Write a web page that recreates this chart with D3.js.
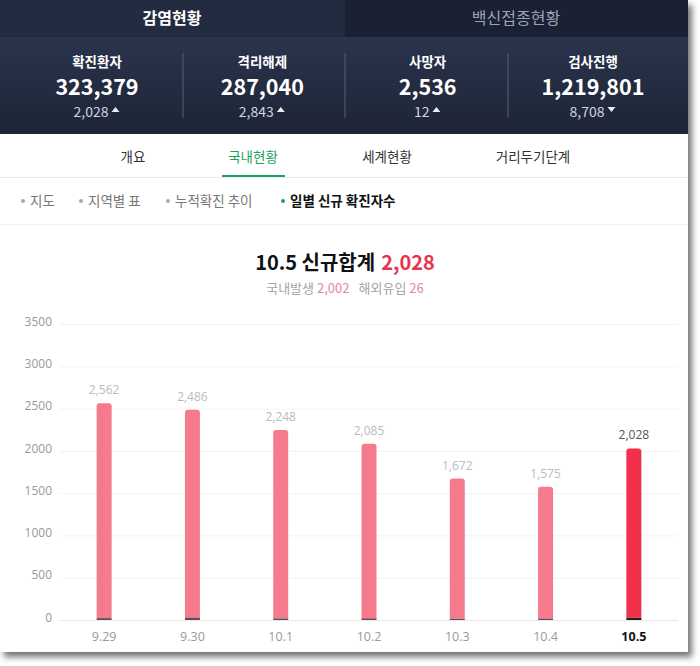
<!DOCTYPE html>
<html><head><meta charset="utf-8">
<script src="https://cdn.jsdelivr.net/npm/d3@7"></script>
<style>
html,body{margin:0;padding:0;background:#fff;}
svg{display:block;font-family:"Noto Sans CJK KR","Noto Sans",sans-serif;}
</style></head>
<body>
<svg id="c" width="700" height="666"></svg>
<script>
// ---- data ----
const tabs = ["감염현황", "백신접종현황"];
const statLabels = ["확진환자", "격리해제", "사망자", "검사진행"];
const statValues = ["323,379", "287,040", "2,536", "1,219,801"];
const statDeltas = ["2,028", "2,843", "12", "8,708"];
const statDirs = ["up", "up", "up", "down"];
const navItems = ["개요", "국내현황", "세계현황", "거리두기단계"];
const subNav = ["지도", "지역별 표", "누적확진 추이", "일별 신규 확진자수"];
const dates = ["9.29", "9.30", "10.1", "10.2", "10.3", "10.4", "10.5"];
const totals = [2562, 2486, 2248, 2085, 1672, 1575, 2028];
const domestic = [2540, 2459, 2230, 2066, 1658, 1560, 2002];
const overseas = [22, 27, 18, 19, 14, 15, 26];
const yTicks = [0, 500, 1000, 1500, 2000, 2500, 3000, 3500];
const titleDate = "10.5", titleLabel = "신규합계", titleValue = "2,028";
const subLabels = ["국내발생", "해외유입"], subValues = ["2,002", "26"];

const svg = d3.select("#c");
const W = 688, H = 652;

// frame shadow
const defs = svg.append("defs");
const f = defs.append("filter").attr("id","sh").attr("x","-5%").attr("y","-5%").attr("width","115%").attr("height","115%");
f.append("feDropShadow").attr("dx",4).attr("dy",5).attr("stdDeviation",3).attr("flood-color","#000").attr("flood-opacity",0.55);
const g1 = defs.append("linearGradient").attr("id","hd").attr("x1",0).attr("y1",0).attr("x2",0).attr("y2",1);
g1.append("stop").attr("offset","0%").attr("stop-color","#2f3a55");
g1.append("stop").attr("offset","100%").attr("stop-color","#1d2436");

svg.append("rect").attr("x",0).attr("y",0).attr("width",W).attr("height",H).attr("fill","#fff").attr("filter","url(#sh)");

// header
svg.append("rect").attr("x",0).attr("y",0).attr("width",W).attr("height",134).attr("fill","url(#hd)");
svg.append("rect").attr("x",0).attr("y",0).attr("width",345).attr("height",37).attr("fill","#232b40");
svg.append("rect").attr("x",345).attr("y",0).attr("width",W-345).attr("height",37).attr("fill","#1b2135");
svg.selectAll("text.tab").data(tabs).join("text").attr("class","tab")
  .attr("x",(d,i)=> i===0 ? 172 : 516).attr("y",24).attr("text-anchor","middle")
  .attr("font-size",16).attr("font-weight",(d,i)=>i===0?700:400)
  .attr("fill",(d,i)=>i===0?"#ffffff":"#9aa3b8").text(d=>d);

const colX = d3.scalePoint().domain(d3.range(4)).range([97, 593]);
[183, 345, 508].forEach(x=> svg.append("line").attr("x1",x).attr("x2",x).attr("y1",53).attr("y2",118).attr("stroke","#55607a").attr("stroke-width",1));
statLabels.forEach((lab,i)=>{
  const x = colX(i);
  svg.append("text").attr("x",x).attr("y",67).attr("text-anchor","middle").attr("font-size",13.5).attr("font-weight",700).attr("fill","#ffffff").text(lab);
  svg.append("text").attr("x",x).attr("y",95).attr("text-anchor","middle").attr("font-size",21.5).attr("font-weight",700).attr("fill","#ffffff").text(statValues[i]);
  const t = svg.append("text").attr("x",x-6).attr("y",117).attr("text-anchor","middle").attr("font-size",14).attr("fill","#cfd5e2").text(statDeltas[i]);
  const bw = t.node().getComputedTextLength();
  const tx = x - 6 + bw/2 + 7;
  const tri = statDirs[i]==="up" ? `M${tx-4},${112} L${tx+4},${112} L${tx},${107} Z` : `M${tx-4},${107} L${tx+4},${107} L${tx},${112} Z`;
  svg.append("path").attr("d",tri).attr("fill","#e8ecf3");
});

// nav
const navX = [133, 253, 387, 533];
navItems.forEach((n,i)=>{
  svg.append("text").attr("x",navX[i]).attr("y",162).attr("text-anchor","middle").attr("font-size",13.5)
    .attr("fill", i===1 ? "#1aa35c" : "#333").text(n);
});
svg.append("line").attr("x1",0).attr("x2",W).attr("y1",177.5).attr("y2",177.5).attr("stroke","#ececec");
svg.append("rect").attr("x",222).attr("y",175).attr("width",63).attr("height",2).attr("fill","#1aa35c");

// sub nav
const subX = [20, 78, 165, 280];
subNav.forEach((n,i)=>{
  const last = i===3;
  svg.append("circle").attr("cx",subX[i]+3).attr("cy",201).attr("r",2).attr("fill", last ? "#1aa35c" : "#aaa");
  svg.append("text").attr("x",subX[i]+10).attr("y",206).attr("font-size",13.5)
    .attr("font-weight", last?700:400).attr("fill", last ? "#111" : "#777").text(n);
});
svg.append("line").attr("x1",0).attr("x2",W).attr("y1",224.5).attr("y2",224.5).attr("stroke","#f0f0f0");

// titles
const tt = svg.append("text").attr("x",345).attr("y",270).attr("text-anchor","middle").attr("font-size",20).attr("font-weight",700);
tt.append("tspan").attr("fill","#111").text(titleDate + " " + titleLabel);
tt.append("tspan").attr("fill","#e8344e").attr("dx",6).text(titleValue);
const st = svg.append("text").attr("x",345).attr("y",293).attr("text-anchor","middle").attr("font-size",13);
st.append("tspan").attr("fill","#a5a5a5").text(subLabels[0]);
st.append("tspan").attr("fill","#e38b99").attr("dx",3).text(subValues[0]);
st.append("tspan").attr("fill","#a5a5a5").attr("dx",9).text(subLabels[1]);
st.append("tspan").attr("fill","#e38b99").attr("dx",3).text(subValues[1]);

// chart
const y = d3.scaleLinear().domain([0,3500]).range([620,324]);
const x = d3.scaleBand().domain(dates).range([60,678]).paddingInner(0).paddingOuter(0);
const barW = 15;

const yAxis = svg.append("g").attr("transform","translate(60,0)")
  .call(d3.axisLeft(y).tickValues(yTicks).tickSize(0).tickPadding(8).tickFormat(d3.format("d")));
yAxis.select(".domain").remove();
yAxis.selectAll("text").attr("font-size",12).attr("fill","#999").attr("font-family","'Open Sans','Noto Sans',sans-serif").attr("dy","0.1em");

svg.append("g").selectAll("line").data(yTicks).join("line")
  .attr("x1",60).attr("x2",678).attr("y1",d=>y(d)+0.5).attr("y2",d=>y(d)+0.5)
  .attr("stroke",d=> d===0 ? "#e8e8e8" : "#f3f3f3");

const rows = dates.map((d,i)=>({date:d, overseas:overseas[i], domestic:domestic[i], total:totals[i], last:i===dates.length-1}));
const stack = d3.stack().keys(["overseas","domestic"])(rows);

function topRounded(x0, y0, w, h, r){
  r = Math.min(r, h);
  return `M${x0},${y0+h} L${x0},${y0+r} Q${x0},${y0} ${x0+r},${y0} L${x0+w-r},${y0} Q${x0+w},${y0} ${x0+w},${y0+r} L${x0+w},${y0+h} Z`;
}
// domestic (upper)
svg.append("g").selectAll("path").data(stack[1]).join("path")
  .attr("d",d=>{const x0 = x(d.data.date)+x.bandwidth()/2-barW/2; return topRounded(x0, y(d[1]), barW, y(d[0])-y(d[1]), 3);})
  .attr("fill",d=> d.data.last ? "#f2304b" : "#f57b8c");
// overseas (bottom)
svg.append("g").selectAll("rect").data(stack[0]).join("rect")
  .attr("x",d=>x(d.data.date)+x.bandwidth()/2-barW/2).attr("width",barW)
  .attr("y",d=>y(d[1])).attr("height",d=>y(d[0])-y(d[1]))
  .attr("fill",d=> d.data.last ? "#2a1a1d" : "#6a4a50");

// value labels
svg.append("g").selectAll("text").data(rows).join("text")
  .attr("x",d=>x(d.date)+x.bandwidth()/2).attr("y",d=>y(d.total)-9)
  .attr("text-anchor","middle").attr("font-size",12).attr("font-family","'Open Sans','Noto Sans',sans-serif")
  .attr("fill",d=> d.last ? "#555" : "#bbb").text(d=>d3.format(",")(d.total));

// x labels
const xAxis = svg.append("g").attr("transform","translate(0,620)")
  .call(d3.axisBottom(x).tickSize(0).tickPadding(12));
xAxis.select(".domain").remove();
xAxis.selectAll("text").attr("font-size",12.5).attr("font-family","'Open Sans','Noto Sans',sans-serif")
  .attr("fill",(d,i)=> i===dates.length-1 ? "#111" : "#999")
  .attr("font-weight",(d,i)=> i===dates.length-1 ? 700 : 400);
</script>
</body></html>
